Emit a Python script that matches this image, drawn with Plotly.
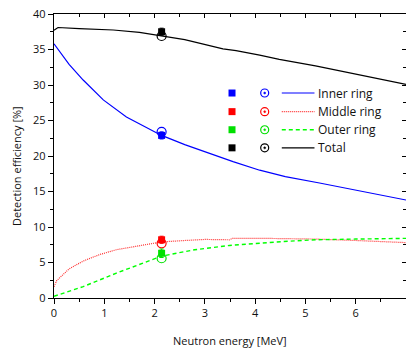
import plotly.graph_objects as go

# ---- data ----
inner_E = [0, 0.1, 0.3, 0.58, 0.98, 1.44, 2.14, 2.6, 3.0, 3.49, 3.56, 4.09, 4.6, 5.28, 5.8, 6.27, 7.0]
inner_v = [35.8, 34.8, 32.9, 30.7, 27.9, 25.5, 22.9, 21.6, 20.6, 19.4, 19.2, 18.0, 17.1, 16.2, 15.5, 14.8, 13.8]

middle_E = [0, 0.05, 0.12, 0.3, 0.58, 0.9, 1.24, 1.7, 2.14, 2.6, 3.0, 3.49, 3.55, 4.2, 5.21, 6.0, 7.0]
middle_v = [1.6, 2.4, 2.9, 4.1, 5.2, 6.1, 6.8, 7.4, 7.9, 8.1, 8.25, 8.2, 8.4, 8.4, 8.3, 8.1, 7.8]

outer_E = [0, 0.58, 1.24, 2.14, 2.8, 3.49, 4.55, 5.21, 6.0, 7.0]
outer_v = [0.25, 1.6, 3.5, 5.9, 6.8, 7.4, 7.95, 8.2, 8.3, 8.4]

total_E = [0, 0.08, 0.5, 1.18, 1.7, 2.14, 2.6, 3.36, 3.62, 4.09, 4.48, 5.2, 5.9, 6.53, 7.0]
total_v = [37.7, 38.1, 37.95, 37.75, 37.4, 36.9, 36.4, 35.1, 34.85, 34.2, 33.6, 32.7, 31.7, 30.8, 30.1]

meas_E = 2.14
square_v = [22.9, 8.2, 6.3, 37.5]
square_err = [0.5, 0.5, 0.6, 0.5]
circle_v = [23.4, 7.7, 5.6, 36.9]

names = ["Inner ring", "Middle ring", "Outer ring", "Total"]
colors = ["#0000ff", "#ff0000", "#00e000", "#000000"]
dashes = ["solid", "1px,1px", "4px,3px", "solid"]
x_ticks = [0, 1, 2, 3, 4, 5, 6, 7]
y_ticks = [0, 5, 10, 15, 20, 25, 30, 35, 40]

FONT = "Open Sans"
fig = go.Figure()

curves = [(inner_E, inner_v), (middle_E, middle_v), (outer_E, outer_v), (total_E, total_v)]
line_colors = ["#0000ff", "#ff3030", "#00ff00", "#000000"]
widths = [1.2, 1.2, 1.4, 1.2]
for (ex, vy), c, d, w, n in zip(curves, line_colors, dashes, widths, names):
    fig.add_trace(go.Scatter(x=ex, y=vy, mode="lines", name=n,
                             line=dict(color=c, dash=d, width=w), showlegend=False))

for i in range(4):
    fig.add_trace(go.Scatter(x=[meas_E], y=[square_v[i]], mode="markers",
                             marker=dict(symbol="square", size=7, color=colors[i]),
                             error_y=dict(type="data", array=[square_err[i]], color=colors[i],
                                          thickness=1, width=2),
                             showlegend=False))
    fig.add_trace(go.Scatter(x=[meas_E], y=[circle_v[i]], mode="markers",
                             marker=dict(symbol="circle-open", size=9, color=colors[i],
                                         line=dict(width=1.2, color=colors[i])),
                             showlegend=False))

# dummy trace for mirrored axes
fig.add_trace(go.Scatter(x=[None], y=[None], xaxis="x2", yaxis="y2", showlegend=False))

# ---- manual legend ----
shapes = []
annotations = []
row_y = [28.87, 26.25, 23.7, 21.15]
sq_x, ci_x, l0, l1, tx = 3.54, 4.19, 4.53, 5.18, 5.22
for i in range(4):
    yv = row_y[i]
    shapes.append(dict(type="rect", xref="x", yref="y", xsizemode="pixel", ysizemode="pixel",
                       xanchor=sq_x, yanchor=yv, x0=-3.5, x1=3.5, y0=-3.5, y1=3.5,
                       fillcolor=colors[i], line=dict(width=0)))
    shapes.append(dict(type="circle", xref="x", yref="y", xsizemode="pixel", ysizemode="pixel",
                       xanchor=ci_x, yanchor=yv, x0=-4, x1=4, y0=-4, y1=4,
                       line=dict(color=colors[i], width=1.2)))
    shapes.append(dict(type="circle", xref="x", yref="y", xsizemode="pixel", ysizemode="pixel",
                       xanchor=ci_x, yanchor=yv, x0=-1, x1=1, y0=-1, y1=1,
                       fillcolor=colors[i], line=dict(color=colors[i], width=0.5)))
    shapes.append(dict(type="line", xref="x", yref="y", x0=l0, x1=l1, y0=yv, y1=yv,
                       line=dict(color=line_colors[i], width=widths[i], dash=dashes[i])))
    annotations.append(dict(x=tx, y=yv, xref="x", yref="y", text=names[i], showarrow=False,
                            xanchor="left", yanchor="middle",
                            font=dict(family=FONT, size=12, color="#111")))

annotations.append(dict(x=0.5, y=-0.148, xref="paper", yref="paper", text="Neutron energy [MeV]",
                        showarrow=False, xanchor="center", yanchor="middle",
                        font=dict(family=FONT, size=11, color="#111")))
annotations.append(dict(x=-0.105, y=0.465, xref="paper", yref="paper", text="Detection efficiency [%]",
                        showarrow=False, textangle=-90, xanchor="center", yanchor="middle",
                        font=dict(family=FONT, size=11, color="#111")))

axis_common = dict(showgrid=False, zeroline=False, showline=True, linecolor="black",
                   linewidth=1.3, tickcolor="black", tickwidth=1.2)

fig.update_layout(
    width=406, height=352,
    margin=dict(l=54, r=0, t=14, b=54),
    paper_bgcolor="white", plot_bgcolor="white",
    showlegend=False,
    shapes=shapes, annotations=annotations,
    xaxis=dict(range=[0, 7], tickvals=x_ticks, ticks="outside", ticklen=5,
               minor=dict(dtick=0.5, ticks="outside", ticklen=3, tickcolor="black", tickwidth=1.2),
               tickfont=dict(family=FONT, size=11, color="#111"), **axis_common),
    yaxis=dict(range=[0, 40], tickvals=y_ticks, ticks="outside", ticklen=5,
               minor=dict(dtick=2.5, ticks="outside", ticklen=3, tickcolor="black", tickwidth=1.2),
               tickfont=dict(family=FONT, size=11, color="#111"), **axis_common),
    xaxis2=dict(range=[0, 7], overlaying="x", side="top", anchor="y", tickvals=x_ticks,
                ticks="inside", ticklen=4, showticklabels=False,
                minor=dict(dtick=0.5, ticks="inside", ticklen=3, tickcolor="black", tickwidth=1.2),
                **axis_common),
    yaxis2=dict(range=[0, 40], overlaying="y", side="right", anchor="x", tickvals=y_ticks,
                ticks="inside", ticklen=4, showticklabels=False,
                minor=dict(dtick=2.5, ticks="inside", ticklen=3, tickcolor="black", tickwidth=1.2),
                **axis_common),
)

fig.write_html("out.html")
